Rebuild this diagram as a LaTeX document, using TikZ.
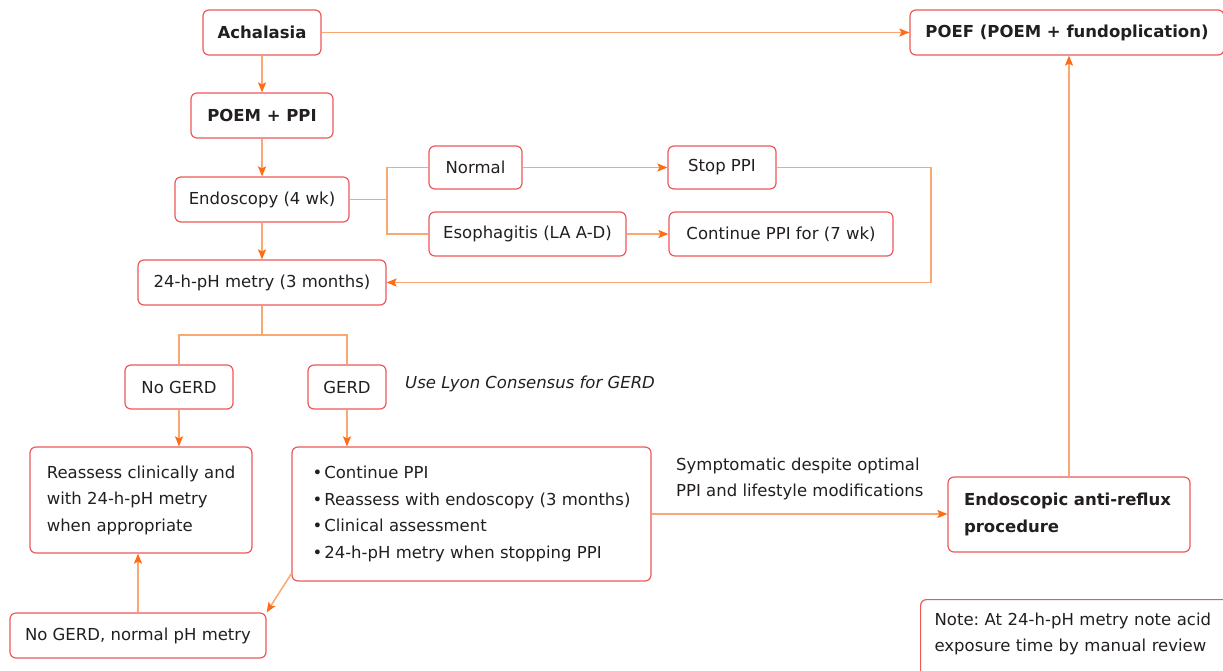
\documentclass[tikz,border=0pt]{standalone}
\usepackage{fontspec}
\setmainfont{DejaVu Sans}
\usetikzlibrary{arrows.meta}
\frenchspacing

\definecolor{boxred}{RGB}{238,88,88}
\definecolor{lineorange}{RGB}{248,168,112}
\definecolor{tiporange}{RGB}{255,108,20}
\definecolor{inkdark}{RGB}{35,31,32}

\tikzset{
  box/.style={draw=boxred, line width=1.2pt, rounded corners=6pt, fill=white,
    inner sep=0pt, minimum height=45pt},
  ln/.style={draw=lineorange, line width=1.5pt},
  arr/.style={ln, -{Stealth[length=10pt,width=8pt,inset=2pt,color=tiporange]}}
}

\begin{document}
\begin{tikzpicture}[x=1pt, y=-1pt, font=\fontsize{16.5}{26.5}\selectfont, text=inkdark]

  \useasboundingbox (0,0) rectangle (1223,670);

  \begin{scope}[every node/.style={box}]
    \node[minimum width=118pt] (achalasia) at (262,32.5)  {\textbf{Achalasia}};
    \node[minimum width=142pt] (poemppi)   at (262,115.5) {\textbf{POEM + PPI}};
    \node[minimum width=174pt] (endo)      at (262,199.5) {Endoscopy (4 wk)};
    \node[minimum width=248pt] (ph)        at (262,282.5) {24-h-pH metry (3 months)};
    \node[minimum width=93pt, minimum height=43pt]  (normal) at (475.5,167.5) {Normal};
    \node[minimum width=108pt, minimum height=43pt] (stop)   at (722,167.5)   {Stop PPI};
    \node[minimum width=197pt, minimum height=44pt] (esoph)  at (527.5,234)   {Esophagitis (LA A-D)};
    \node[minimum width=224pt, minimum height=44pt] (cont)   at (781,234)     {Continue PPI for (7 wk)};
    \node[minimum width=314pt] (poef)      at (1067,32.5) {\textbf{POEF (POEM + fundoplication)}};
    \node[minimum width=108pt, minimum height=44pt] (nogerd) at (179,387) {No GERD};
    \node[minimum width=78pt, minimum height=44pt]  (gerd)   at (347,387) {GERD};
    \node[minimum width=222pt, minimum height=106pt, align=left]
      (reassess) at (141,500) {Reassess clinically and\\with 24-h-pH metry\\when appropriate};
    \node[minimum width=359pt, minimum height=134pt, align=left]
      (list) at (471.5,514) {\textbullet\hspace{2pt}Continue PPI\\
        \textbullet\hspace{2pt}Reassess with endoscopy (3 months)\\
        \textbullet\hspace{2pt}Clinical assessment\\
        \textbullet\hspace{2pt}24-h-pH metry when stopping PPI};
    \node[minimum width=256pt] (normalph) at (138,635.5) {No GERD, normal pH metry};
    \node[minimum width=242pt, minimum height=75pt, text width=210pt, align=left]
      (antireflux) at (1069,514.5) {\textbf{Endoscopic anti-reflux}\\\textbf{procedure}};
    \node[anchor=north west, inner xsep=14pt, inner ysep=13pt, text width=290pt, align=left]
      (note) at (920,599) {Note: At 24-h-pH metry note acid\\exposure time by manual review\\\strut};
  \end{scope}

  \node[anchor=west, inner sep=0pt] (lyon) at (405,384) {\itshape Use Lyon Consensus for GERD};
  \node[anchor=west, inner sep=0pt, align=left] (symlabel) at (676,479)
    {Symptomatic despite optimal\\PPI and lifestyle modifications};

  \coordinate (split)   at (387,199.5);
  \coordinate (back)    at (931,282.5);
  \coordinate (phsplit) at (262,335);

  % main line
  \path (achalasia) edge[arr] (poemppi);
  \path (poemppi)   edge[arr] (endo);
  \path (endo)      edge[arr] (ph);
  \path (achalasia) edge[arr] (poef);

  % endoscopy outcome
  \draw[ln] (endo.east) -- (split);
  \draw[ln] (normal.west) -| (split) |- (esoph.west);
  \path (normal) edge[arr] (stop);
  \path (esoph)  edge[arr] (cont);
  \draw[arr] (stop.east) -| (back) -- (ph.east);

  % pH metry outcome
  \draw[ln] (ph.south) -- (phsplit);
  \draw[ln] (nogerd.north) |- (phsplit) -| (gerd.north);
  \draw[arr] (nogerd.south) -- (nogerd.south |- reassess.north);
  \draw[arr] (gerd.south) -- (gerd.south |- list.north);
  \draw[arr] ([yshift=8pt]list.south west) -- (normalph.north east);
  \draw[arr] (normalph.north) -- (normalph.north |- reassess.south);
  \draw[arr] (list.east) -- (list.east -| antireflux.west);
  \draw[arr] (antireflux.north) -- (antireflux.north |- poef.south);

\end{tikzpicture}
\end{document}
